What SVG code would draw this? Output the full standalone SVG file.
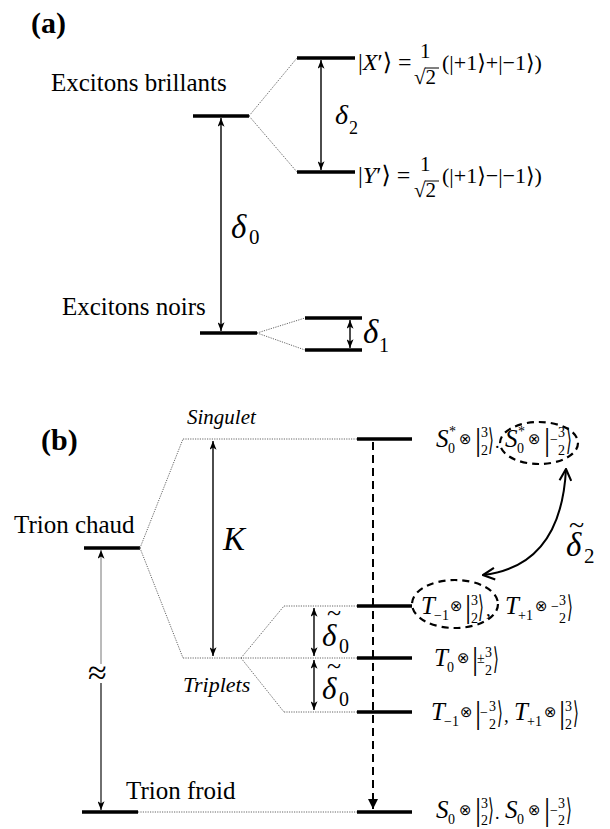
<svg xmlns="http://www.w3.org/2000/svg" width="610" height="829" viewBox="0 0 610 829">
<defs>
<style>
text{font-family:"Liberation Serif","Times New Roman",serif;fill:#000}
.lbl{font-size:25px}
.hd{font-weight:bold;font-size:30px}
.it{font-style:italic}
.m{font-style:italic;font-size:25px}
.sb{font-size:14px}
.fr{font-size:14px}
.bar{font-size:31px}
.ot{font-family:"DejaVu Sans",sans-serif;font-size:15px}
.br{font-family:"DejaVu Sans",sans-serif}
.tb{font-family:"DejaVu Sans",sans-serif;font-size:30px}
.lvl{stroke:#000;stroke-width:3.5;fill:none}
.dot{stroke:#666;stroke-width:1;stroke-dasharray:1.2 1.2;fill:none}
.arr{stroke:#000;stroke-width:1.4;fill:none;marker-start:url(#a);marker-end:url(#a)}
.ell{stroke:#000;stroke-width:2.2;stroke-dasharray:7 5;fill:none}
</style>
<marker id="a" viewBox="0 0 10 8" refX="10" refY="4" markerWidth="9" markerHeight="7" markerUnits="userSpaceOnUse" orient="auto-start-reverse"><path d="M0,0 L10,4 L0,8 L2.5,4z" fill="#000"/></marker>
<marker id="o" viewBox="0 0 12 12" refX="11" refY="6" markerWidth="14" markerHeight="14" markerUnits="userSpaceOnUse" orient="auto-start-reverse"><path d="M1,1 L11,6 L1,11" fill="none" stroke="#000" stroke-width="1.8"/></marker>
<marker id="t" viewBox="0 0 10 10" refX="10" refY="5" markerWidth="10" markerHeight="10" markerUnits="userSpaceOnUse" orient="auto"><path d="M0,0 L10,5 L0,10z" fill="#000"/></marker>
</defs>
<rect width="610" height="829" fill="#fff"/>

<!-- ===== (a) ===== -->
<text id="title-a" class="hd" x="31" y="33">(a)</text>

<g id="bright">
<path class="lvl" d="M193,116 H249"/>
<text class="lbl" x="51" y="91">Excitons brillants</text>
</g>

<g id="xprime">
<path class="lvl" d="M297,58 H355"/>
<text x="358" y="70" font-size="24">|<tspan class="it">X</tspan>′<tspan class="br">⟩</tspan> =</text>
<text x="420" y="58" font-size="21">1</text>
<text x="414" y="84" font-size="21">√2</text>
<path d="M425,68 H439" stroke="#000" stroke-width="1"/>
<text x="442" y="70" font-size="22">(|+1<tspan class="br">⟩</tspan>+|−1<tspan class="br">⟩</tspan>)</text>
</g>

<g id="yprime">
<path class="lvl" d="M297,172 H355"/>
<text x="358" y="183" font-size="24">|<tspan class="it">Y</tspan>′<tspan class="br">⟩</tspan> =</text>
<text x="420" y="171" font-size="21">1</text>
<text x="414" y="197" font-size="21">√2</text>
<path d="M425,181 H439" stroke="#000" stroke-width="1"/>
<text x="442" y="183" font-size="22">(|+1<tspan class="br">⟩</tspan>−|−1<tspan class="br">⟩</tspan>)</text>
</g>

<g id="dark">
<path class="lvl" d="M200,333 H257"/>
<text class="lbl" x="62" y="315">Excitons noirs</text>
</g>
<g id="dark-split">
<path class="lvl" d="M305,318 H362"/>
<path class="lvl" d="M305,350 H362"/>
</g>

<g id="labels-a">
<text x="335" y="124" font-size="28" class="it">δ</text><text x="349" y="134" font-size="18">2</text>
<text x="231" y="238" font-size="33" class="it">δ</text><text x="249" y="244" font-size="21">0</text>
<text x="363" y="343" font-size="33" class="it">δ</text><text x="379" y="352" font-size="20">1</text>
</g>

<!-- ===== (b) ===== -->
<text id="title-b" class="hd" x="41" y="450">(b)</text>

<g id="trion-chaud">
<path class="lvl" d="M84,548 H140"/>
<text class="lbl" x="14" y="533">Trion chaud</text>
</g>

<g id="singulet">
<path class="dot" d="M183,439 H357"/>
<path class="lvl" d="M357,439 H412"/>
<text class="it" x="187" y="424" font-size="21">Singulet</text>
<text class="m" x="436" y="447">S</text><text class="sb" x="448" y="453">0</text><text class="sb" x="449" y="436" font-size="15">*</text>
<text class="ot" x="459" y="444">⊗</text>
<text class="bar" x="475" y="450">|</text>
<text class="fr" x="481" y="437">3</text><text class="fr" x="481" y="455">2</text>
<text class="tb" transform="translate(488,450) scale(0.5,1)">⟩</text>
<text x="495" y="448" font-size="18">.</text>
<text class="m" x="505" y="447">S</text><text class="sb" x="517" y="453">0</text><text class="sb" x="518" y="436" font-size="15">*</text>
<text class="ot" x="528" y="444">⊗</text>
<text class="bar" x="544" y="450">|</text>
<text class="fr" x="550" y="444">−</text>
<text class="fr" x="558" y="437">3</text><text class="fr" x="558" y="455">2</text>
<text class="tb" transform="translate(566,450) scale(0.5,1)">⟩</text>
</g>

<g id="triplet-m1">
<path class="dot" d="M284,606 H357"/>
<path class="lvl" d="M357,606 H412"/>
<text class="m" x="421" y="614">T</text><text class="sb" x="434" y="620" font-size="13">−1</text>
<text class="ot" x="450" y="611">⊗</text>
<text class="bar" x="465" y="617">|</text>
<text class="fr" x="471" y="605">3</text><text class="fr" x="471" y="623">2</text>
<text class="tb" transform="translate(478,617) scale(0.5,1)">⟩</text>
<text x="486" y="616" font-size="19">,</text>
<text class="m" x="505" y="614">T</text><text class="sb" x="518" y="620" font-size="13">+1</text>
<text class="ot" x="535" y="611">⊗</text>
<text class="fr" x="551" y="611">−</text>
<text class="fr" x="559" y="605">3</text><text class="fr" x="559" y="623">2</text>
<text class="tb" transform="translate(567,617) scale(0.5,1)">⟩</text>
</g>

<g id="triplet-0">
<path class="dot" d="M183,658 H357"/>
<path class="lvl" d="M357,658 H412"/>
<text class="m" x="434" y="666">T</text><text class="sb" x="447" y="672">0</text>
<text class="ot" x="457" y="663">⊗</text>
<text class="bar" x="472" y="669">|</text>
<text class="fr" x="477" y="663" font-size="13">±</text>
<text class="fr" x="485" y="657">3</text><text class="fr" x="485" y="675">2</text>
<text class="tb" transform="translate(493,669) scale(0.5,1)">⟩</text>
<text class="it" x="183" y="692" font-size="22">Triplets</text>
</g>

<g id="triplet-p1">
<path class="dot" d="M284,712 H357"/>
<path class="lvl" d="M357,712 H412"/>
<text class="m" x="431" y="720">T</text><text class="sb" x="444" y="726" font-size="13">−1</text>
<text class="ot" x="460" y="717">⊗</text>
<text class="bar" x="475" y="723">|</text>
<text class="fr" x="480" y="717">−</text>
<text class="fr" x="489" y="711">3</text><text class="fr" x="489" y="729">2</text>
<text class="tb" transform="translate(497,723) scale(0.5,1)">⟩</text>
<text x="504" y="722" font-size="19">,</text>
<text class="m" x="514" y="720">T</text><text class="sb" x="527" y="726" font-size="13">+1</text>
<text class="ot" x="544" y="717">⊗</text>
<text class="bar" x="559" y="723">|</text>
<text class="fr" x="565" y="711">3</text><text class="fr" x="565" y="729">2</text>
<text class="tb" transform="translate(573,723) scale(0.5,1)">⟩</text>
</g>

<g id="trion-froid">
<path class="lvl" d="M82,812 H138"/>
<path class="dot" d="M138,812 H357"/>
<path class="lvl" d="M357,812 H412"/>
<text class="lbl" x="126" y="799">Trion froid</text>
<text class="m" x="436" y="818">S</text><text class="sb" x="448" y="824">0</text>
<text class="ot" x="459" y="815">⊗</text>
<text class="bar" x="475" y="820">|</text>
<text class="fr" x="481" y="808">3</text><text class="fr" x="481" y="825">2</text>
<text class="tb" transform="translate(488,820) scale(0.5,1)">⟩</text>
<text x="495" y="819" font-size="18">.</text>
<text class="m" x="505" y="818">S</text><text class="sb" x="517" y="824">0</text>
<text class="ot" x="528" y="815">⊗</text>
<text class="bar" x="544" y="820">|</text>
<text class="fr" x="550" y="815">−</text>
<text class="fr" x="558" y="808">3</text><text class="fr" x="558" y="825">2</text>
<text class="tb" transform="translate(566,820) scale(0.5,1)">⟩</text>
</g>

<g id="labels-b">
<text x="223" y="550" font-size="33" class="it">K</text>
<text x="327" y="621" font-size="26">~</text>
<text x="322" y="646" font-size="31" class="it">δ</text><text x="339" y="653" font-size="20">0</text>
<text x="327" y="674" font-size="26">~</text>
<text x="322" y="699" font-size="31" class="it">δ</text><text x="339" y="706" font-size="20">0</text>
<text x="569" y="534" font-size="28">~</text>
<text x="566" y="556" font-size="33" class="it">δ</text><text x="584" y="563" font-size="21">2</text>
<text x="88" y="684" font-size="34">≈</text>
</g>

<g id="connectors">
<path class="dot" d="M249,116 L297,58"/>
<path class="dot" d="M249,116 L297,172"/>
<path class="dot" d="M257,333 L305,318"/>
<path class="dot" d="M257,333 L305,350"/>
<path class="dot" d="M140,548 L183,439"/>
<path class="dot" d="M140,548 L183,658"/>
<path class="dot" d="M241,658 L284,606"/>
<path class="dot" d="M241,658 L284,712"/>
<path class="arr" d="M321,60 V170" stroke-width="1.6"/>
<path class="arr" d="M221,118 V331" stroke="#333" stroke-width="1.2"/>
<path class="arr" d="M350,320 V348" stroke-width="1.5"/>
<path class="arr" d="M213,441 V656" stroke-width="1.3"/>
<path d="M101,550 V664" stroke="#777" stroke-width="1" fill="none" marker-start="url(#a)"/>
<path d="M101,683 V810" stroke="#222" stroke-width="1.3" fill="none" marker-end="url(#a)"/>
<path class="arr" d="M314,608 V656" stroke-width="1.8"/>
<path class="arr" d="M314,660 V710" stroke-width="1.8"/>
<path d="M373,442 V809" stroke="#000" stroke-width="2" stroke-dasharray="8 5" fill="none" marker-end="url(#t)"/>
<path d="M566,469 Q561,566 483,575" stroke="#000" stroke-width="2" fill="none" marker-start="url(#o)" marker-end="url(#o)"/>
<ellipse class="ell" cx="539" cy="443" rx="39" ry="21"/>
<ellipse class="ell" cx="455" cy="604" rx="43" ry="24"/>
</g>
</svg>
